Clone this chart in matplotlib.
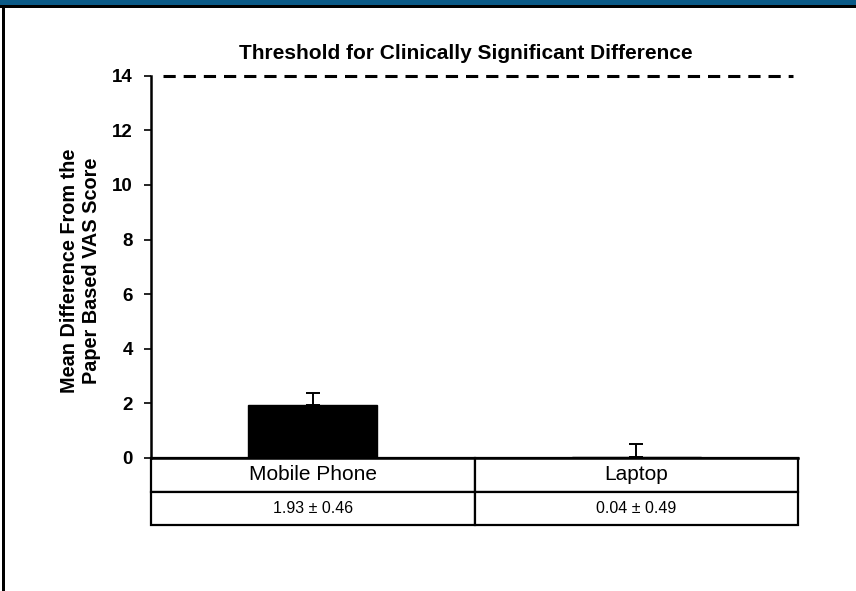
import matplotlib
matplotlib.use("Agg")
import matplotlib.pyplot as plt
from matplotlib.patches import Rectangle

plt.rcParams['font.family'] = ['Liberation Sans', 'DejaVu Sans']

categories = ["Mobile Phone", "Laptop"]
means = [1.93, 0.04]
sds = [0.46, 0.49]
value_labels = ["1.93 ± 0.46", "0.04 ± 0.49"]
threshold = 14
yticks = [0, 2, 4, 6, 8, 10, 12, 14]
title = "Threshold for Clinically Significant Difference"
ylabel = "Mean Difference From the\nPaper Based VAS Score"

W, H = 856, 591
fig = plt.figure(figsize=(W / 100, H / 100), dpi=100)

def px(x0, y0, x1, y1):
    return [x0 / W, 1 - y1 / H, (x1 - x0) / W, (y1 - y0) / H]

# frame decorations
fig.patches.append(Rectangle((0, 1 - 5 / H), 1, 5 / H, transform=fig.transFigure,
                             facecolor="#0b5a87", edgecolor="none"))
fig.patches.append(Rectangle((0, 1 - 8 / H), 1, 3 / H, transform=fig.transFigure,
                             facecolor="black", edgecolor="none"))
fig.patches.append(Rectangle((2 / W, 0), 3 / W, 1 - 5 / H, transform=fig.transFigure,
                             facecolor="black", edgecolor="none"))

ax = fig.add_axes(px(151, 75.7, 798, 458))
x = list(range(len(categories)))
ax.bar(x, means, width=0.4, color="black", edgecolor="black", zorder=2)
ax.errorbar(x, means, yerr=[[0] * len(sds), sds], fmt="none", ecolor="black",
            elinewidth=1.4, capsize=5, capthick=1.4, zorder=3)
ax.set_xlim(-0.5, 1.5)
ax.set_ylim(0, threshold)
ax.axhline(threshold, xmin=12 / 647, xmax=642 / 647, color="black", lw=2.2,
           ls=(0, (4, 2.6)), clip_on=False)

for s in ["top", "right"]:
    ax.spines[s].set_visible(False)
ax.spines["left"].set_linewidth(1.8)
ax.spines["bottom"].set_linewidth(1.8)
ax.set_xticks([])
ax.set_yticks(yticks)
ax.set_yticklabels([str(t) for t in yticks], fontweight="bold", fontsize=13.5)
ax.tick_params(axis="y", direction="out", length=5, width=1.2, pad=8)

ax.set_title(title, fontweight="bold", fontsize=15, pad=12, x=(466 - 151) / 647)
ax.set_ylabel(ylabel, fontweight="bold", fontsize=14.3, linespacing=1.2)
ax.yaxis.set_label_coords(-50 / 647, 0.49)

# table below
rh = 33.5 / 382.3
tbl = ax.table(cellText=[categories, value_labels], cellLoc="center",
               bbox=[0, -2 * rh, 1, 2 * rh])
tbl.auto_set_font_size(False)
for (r, c), cell in tbl.get_celld().items():
    cell.set_linewidth(1.6)
    cell.set_edgecolor("black")
    cell.get_text().set_fontsize(15 if r == 0 else 11.5)

fig.savefig("out.png", dpi=100)
